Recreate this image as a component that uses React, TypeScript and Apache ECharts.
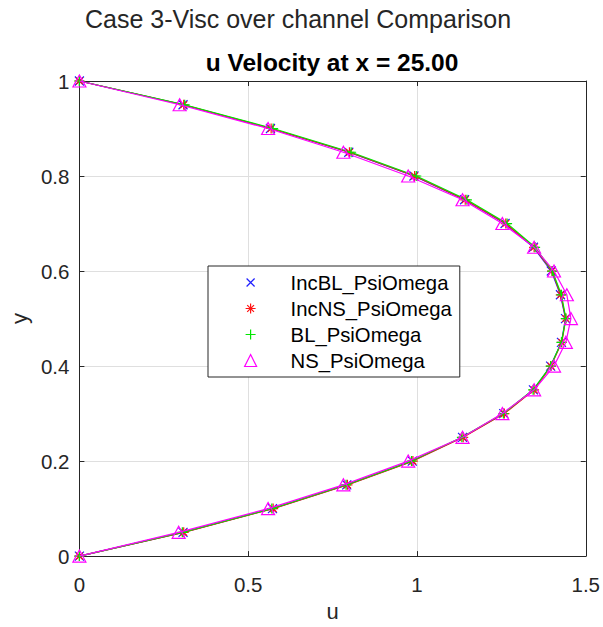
import React, { useEffect, useRef } from "react";
import * as echarts from "echarts";

const yPositions = [0, 0.05, 0.1, 0.15, 0.2, 0.25, 0.3, 0.35, 0.4, 0.45, 0.5, 0.55, 0.6, 0.65, 0.7, 0.75, 0.8, 0.85, 0.9, 0.95, 1.0];
const incBL = [0, 0.307, 0.572, 0.792, 0.986, 1.135, 1.257, 1.345, 1.396, 1.428, 1.440, 1.425, 1.398, 1.345, 1.261, 1.141, 0.991, 0.798, 0.566, 0.307, 0];
const incNS = [0, 0.309, 0.574, 0.794, 0.988, 1.137, 1.259, 1.347, 1.397, 1.429, 1.441, 1.426, 1.400, 1.347, 1.263, 1.143, 0.993, 0.800, 0.568, 0.309, 0];
const bl = [0, 0.305, 0.570, 0.790, 0.984, 1.133, 1.256, 1.344, 1.396, 1.428, 1.441, 1.428, 1.401, 1.350, 1.267, 1.148, 0.998, 0.805, 0.574, 0.312, 0];
const ns = [0, 0.294, 0.559, 0.782, 0.974, 1.135, 1.253, 1.347, 1.406, 1.441, 1.456, 1.444, 1.406, 1.347, 1.253, 1.135, 0.974, 0.782, 0.559, 0.297, 0];

const seriesNames = ["IncBL_PsiOmega", "IncNS_PsiOmega", "BL_PsiOmega", "NS_PsiOmega"];
const seriesValues = [incBL, incNS, bl, ns];
const seriesColors = ["#1f1fff", "#ff1414", "#00e600", "#ff00ff"];
const xTicks = { min: 0, max: 1.5, interval: 0.5 };
const yTicks = { min: 0, max: 1, interval: 0.2 };

const FONT = "Liberation Sans, Arial, Helvetica, sans-serif";
const DARK = "#262626";

const markerPaths = [
  "path://M0,0L10,10M10,0L0,10",
  "path://M5,0L5,10M0,5L10,5M1.6,1.6L8.4,8.4M8.4,1.6L1.6,8.4",
  "path://M5,0L5,10M0,5L10,5",
  "path://M5,0L10,10L0,10Z",
];
const markerSizes: any[] = [9, 10, 10, [13, 12]];
// legend icons drawn in a 70 x 14 box, marker centred at (35, 7)
const legendPaths = [
  "path://M0,0M70,14M31,3L39,11M39,3L31,11",
  "path://M0,0M70,14M35,2L35,12M30,7L40,7M31.6,3.6L38.4,10.4M38.4,3.6L31.6,10.4",
  "path://M0,0M70,14M35,2L35,12M30,7L40,7",
  "path://M0,0M70,14M35,1L41,13L29,13Z",
];

function makeAxis(base: any, extra: any) {
  return Object.assign(
    {
      type: "value",
      min: base.min,
      max: base.max,
      interval: base.interval,
      axisLine: { show: true, onZero: false, lineStyle: { color: DARK, width: 1 } },
      axisTick: { show: true, inside: true, length: 5, lineStyle: { color: DARK, width: 1 } },
    },
    extra
  );
}

export default function App() {
  const ref = useRef<HTMLDivElement>(null);
  useEffect(() => {
    if (!ref.current) return;
    const chart = echarts.init(ref.current, undefined, { renderer: "svg" });
    const series = seriesNames.map((name, i) => ({
      name,
      type: "line",
      xAxisIndex: 0,
      yAxisIndex: 0,
      data: seriesValues[i].map((u, k) => [u, yPositions[k]]),
      symbol: markerPaths[i],
      symbolSize: markerSizes[i],
      showAllSymbol: true,
      lineStyle: { color: seriesColors[i], width: 1.2 },
      itemStyle: { color: "rgba(0,0,0,0)", borderColor: seriesColors[i], borderWidth: 1.2 },
      emphasis: { disabled: true },
      z: 2 + i,
    }));
    chart.setOption({
      animation: false,
      backgroundColor: "#ffffff",
      title: [
        {
          text: "Case 3-Visc over channel Comparison",
          left: 298,
          top: 6,
          padding: 0,
          textAlign: "center",
          textVerticalAlign: "top",
          textStyle: { fontFamily: FONT, fontSize: 25, fontWeight: "normal", color: DARK },
        },
        {
          text: "u Velocity at x = 25.00",
          left: 332,
          top: 50,
          padding: 0,
          textAlign: "center",
          textVerticalAlign: "top",
          textStyle: { fontFamily: FONT, fontSize: 24.5, fontWeight: "bold", color: "#000000" },
        },
      ],
      grid: { left: 77, right: 17, top: 81, bottom: 67, containLabel: false },
      legend: {
        orient: "vertical",
        left: 208,
        top: 266,
        padding: [3.5, 8, 3.5, 7],
        itemGap: 0,
        itemWidth: 70,
        itemHeight: 14,
        backgroundColor: "#ffffff",
        borderColor: DARK,
        borderWidth: 1,
        selectedMode: false,
        symbolKeepAspect: false,
        textStyle: { fontFamily: FONT, fontSize: 20.3, color: "#000000", lineHeight: 26 },
        data: seriesNames.map((name, i) => ({
          name,
          icon: legendPaths[i],
          itemStyle: { color: "rgba(0,0,0,0)", borderColor: seriesColors[i], borderWidth: 1.2 },
        })),
      },
      xAxis: [
        makeAxis(xTicks, {
          position: "bottom",
          name: "u",
          nameLocation: "middle",
          nameGap: 25,
          nameTextStyle: { fontFamily: FONT, fontSize: 22, color: DARK },
          axisLabel: { fontFamily: FONT, fontSize: 20.5, color: DARK, margin: 18 },
          splitLine: { show: true, lineStyle: { color: "#dfdfdf", width: 1 } },
        }),
        makeAxis(xTicks, {
          position: "top",
          axisLabel: { show: false },
          splitLine: { show: false },
        }),
      ],
      yAxis: [
        makeAxis(yTicks, {
          position: "left",
          name: "y",
          nameLocation: "middle",
          nameGap: 44,
          nameRotate: 90,
          nameTextStyle: { fontFamily: FONT, fontSize: 22, color: DARK },
          axisLabel: { fontFamily: FONT, fontSize: 20.5, color: DARK, margin: 10 },
          splitLine: { show: true, lineStyle: { color: "#dfdfdf", width: 1 } },
        }),
        makeAxis(yTicks, {
          position: "right",
          axisLabel: { show: false },
          splitLine: { show: false },
        }),
      ],
      series,
    });
    return () => chart.dispose();
  }, []);
  return (
    <div
      ref={ref}
      style={{ position: "absolute", left: 0, top: 0, width: 603, height: 627, background: "#ffffff" }}
    />
  );
}
